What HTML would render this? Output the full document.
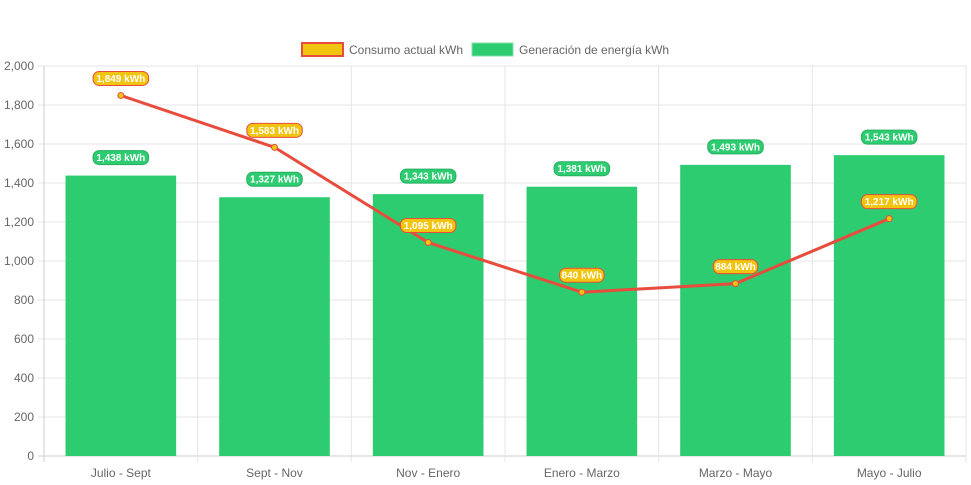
<!DOCTYPE html>
<html><head><meta charset="utf-8"><style>
body{margin:0;background:#fff;font-family:"Liberation Sans",sans-serif}
svg{display:block}
</style></head><body>
<svg id="c" width="971" height="485" xmlns="http://www.w3.org/2000/svg">
<g>
<rect x="302" y="43" width="41" height="13" fill="#f1c40f" stroke="#e74c3c" stroke-width="2"/>
<text x="349" y="54" font-size="12" fill="#666">Consumo actual kWh</text>
<rect x="472" y="43" width="41" height="13" fill="#2ecc71" stroke="#7fe0a8" stroke-width="1"/>
<text x="519" y="54" font-size="12" fill="#666">Generación de energía kWh</text>
</g>
</svg>
<script>
const categories=["Julio - Sept","Sept - Nov","Nov - Enero","Enero - Marzo","Marzo - Mayo","Mayo - Julio"];
const generacion=[1438,1327,1343,1381,1493,1543];
const consumo=[1849,1583,1095,840,884,1217];
const yTicks=[0,200,400,600,800,1000,1200,1400,1600,1800,2000];
const NS="http://www.w3.org/2000/svg";
const svg=document.getElementById('c');
const L=44,R=966,T=66,B=456,yMax=2000;
const bw=(R-L)/categories.length;
const y=v=>B-v/yMax*(B-T);
const xc=i=>L+bw*(i+0.5);
function mk(t,a,p){const e=document.createElementNS(NS,t);for(const k in a)e.setAttribute(k,a[k]);(p||svg).appendChild(e);return e;}
const grid=mk('g',{});


yTicks.forEach(v=>{
 const l=mk('line',{x1:L-6,x2:R,y1:y(v),y2:y(v),stroke:v===0?'#ccc':'#e5e5e5','stroke-width':1},grid);
 
 
 const t=mk('text',{x:L-10,y:y(v)+4,'text-anchor':'end','font-size':12,fill:'#666'},grid);
 t.textContent=v.toLocaleString('en-US');
 
 
});
for(let i=0;i<=categories.length;i++){
 const l=mk('line',{x1:L+bw*i,x2:L+bw*i,y1:T,y2:B+6,stroke:i===0?'#ccc':'#e5e5e5','stroke-width':1},grid);
 
 
}
categories.forEach((c,i)=>{
 const t=mk('text',{x:xc(i),y:B+21,'text-anchor':'middle','font-size':12,fill:'#666'});
 t.textContent=c;
 
 
});
function pill(cx,cy,txt,fill,stroke,name){
 const g=mk('g',{});
 
 
 const w=txt.length*5.5+6;
 mk('rect',{x:cx-w/2,y:cy-7,width:w,height:14,rx:6,fill:fill,stroke:stroke,'stroke-width':1},g);
 const t=mk('text',{x:cx,y:cy+3.5,'text-anchor':'middle','font-size':10,'font-weight':'bold',fill:'#fff'},g);
 t.textContent=txt;
}
const bars=mk('g',{});


generacion.forEach((v,i)=>{
 const w=bw*0.72;
 const r=mk('rect',{x:xc(i)-w/2,y:y(v),width:w,height:B-y(v),fill:'#2ecc71'},bars);
 
 
});
const pts=consumo.map((v,i)=>xc(i)+','+y(v)).join(' ');
const line=mk('polyline',{points:pts,fill:'none',stroke:'#e74c3c','stroke-width':3});


consumo.forEach((v,i)=>{
 const p=mk('circle',{cx:xc(i),cy:y(v),r:3,fill:'#f1c40f',stroke:'#e74c3c','stroke-width':1});
 
 
});
generacion.forEach((v,i)=>pill(xc(i),y(v)-18,v.toLocaleString('en-US')+' kWh','#2ecc71','#27ae60','label-generacion'));
consumo.forEach((v,i)=>pill(xc(i),y(v)-17,v.toLocaleString('en-US')+' kWh','#f1c40f','#e74c3c','label-consumo'));
</script>
</body></html>
